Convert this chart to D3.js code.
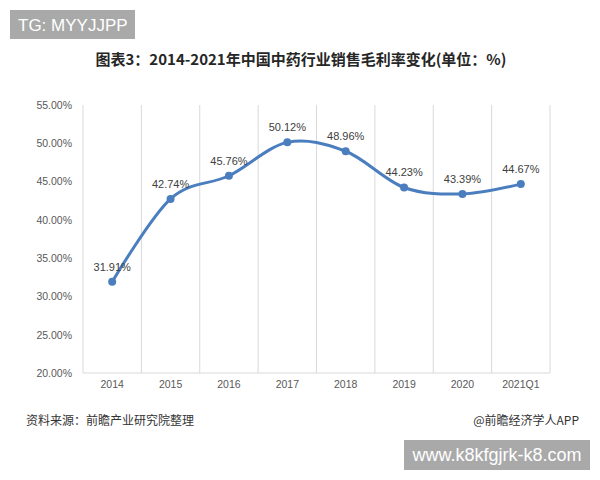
<!DOCTYPE html>
<html>
<head>
<meta charset="utf-8">
<script src="https://cdn.jsdelivr.net/npm/d3@7"></script>
<style>
html,body{margin:0;padding:0;background:#fff;}
svg{display:block;}
</style>
</head>
<body>
<svg id="chart" width="600" height="480"></svg>
<script>
const categories = ["2014","2015","2016","2017","2018","2019","2020","2021Q1"];
const values = [31.91, 42.74, 45.76, 50.12, 48.96, 44.23, 43.39, 44.67];
const yTicks = [20, 25, 30, 35, 40, 45, 50, 55];
const titleText = "图表3：2014-2021年中国中药行业销售毛利率变化(单位：%)";
const sourceText = "资料来源：前瞻产业研究院整理";
const creditText = "@前瞻经济学人APP";
const tagText = "TG: MYYJJPP";
const siteText = "www.k8kfgjrk-k8.com";

const svg = d3.select("#chart");
const cjk = "'Noto Sans CJK SC','Noto Sans',sans-serif";
const latin = "'Liberation Sans','Noto Sans',sans-serif";

const x = d3.scaleBand().domain(categories).range([83, 550]).padding(0);
const y = d3.scaleLinear().domain([20, 55]).range([373, 105]);

// top-left tag
svg.append("rect").attr("x",10).attr("y",10).attr("width",125).attr("height",29).attr("fill","#a9a9a9");
svg.append("text").attr("x",18).attr("y",25).attr("dy","0.35em")
  .attr("font-family",latin).attr("font-size",17).attr("fill","#fff").text(tagText);

// title
svg.append("text").attr("x",301).attr("y",60).attr("dy","0.35em").attr("text-anchor","middle")
  .attr("font-family",cjk).attr("font-weight","bold").attr("font-size",15).attr("fill","#262626")
  .text(titleText);

// vertical gridlines at category boundaries
const bounds = categories.map(c => x(c)).concat([x(categories[categories.length-1]) + x.bandwidth()]);
svg.append("g").selectAll("line").data(bounds).join("line")
  .attr("x1", d => d).attr("x2", d => d).attr("y1", y(55)).attr("y2", y(20))
  .attr("stroke","#d9d9d9").attr("stroke-width",1);

// bottom axis line
svg.append("line").attr("x1",83).attr("x2",550).attr("y1",y(20)).attr("y2",y(20))
  .attr("stroke","#d9d9d9").attr("stroke-width",1);

// y axis labels
const yAxis = d3.axisLeft(y).tickValues(yTicks).tickSize(0).tickPadding(0)
  .tickFormat(d => d.toFixed(2) + "%");
const yg = svg.append("g").attr("transform","translate(72,0)").call(yAxis);
yg.select(".domain").remove();
yg.selectAll("text").attr("font-family",latin).attr("font-size",10.5).attr("fill","#595959");

// x axis labels
const xAxis = d3.axisBottom(x).tickSize(0).tickPadding(0);
const xg = svg.append("g").attr("transform","translate(0,381)").call(xAxis);
xg.select(".domain").remove();
xg.selectAll("text").attr("font-family",latin).attr("font-size",10.5).attr("fill","#595959");

// line
const pts = categories.map((c,i) => ({c, v: values[i]}));
const line = d3.line().x(d => x(d.c) + x.bandwidth()/2).y(d => y(d.v)).curve(d3.curveCardinal.tension(0));
svg.append("path").datum(pts).attr("d", line).attr("fill","none")
  .attr("stroke","#4a7ebf").attr("stroke-width",3).attr("stroke-linecap","round");

svg.append("g").selectAll("circle").data(pts).join("circle")
  .attr("cx", d => x(d.c) + x.bandwidth()/2).attr("cy", d => y(d.v)).attr("r",4)
  .attr("fill","#4a7ebf");

svg.append("g").selectAll("text").data(pts).join("text")
  .attr("x", d => x(d.c) + x.bandwidth()/2).attr("y", d => y(d.v) - 15).attr("dy","0.35em")
  .attr("text-anchor","middle").attr("font-family",latin).attr("font-size",11).attr("fill","#404040")
  .text(d => d.v.toFixed(2) + "%");

// footer
svg.append("text").attr("x",26).attr("y",421).attr("dy","0.35em")
  .attr("font-family",cjk).attr("font-size",12).attr("fill","#333").text(sourceText);
svg.append("text").attr("x",579).attr("y",421).attr("dy","0.35em").attr("text-anchor","end")
  .attr("font-family",cjk).attr("font-size",12).attr("fill","#333").text(creditText);

// bottom-right site box
svg.append("rect").attr("x",404).attr("y",440).attr("width",186).attr("height",30).attr("fill","#a9a9a9");
svg.append("text").attr("x",497).attr("y",455).attr("dy","0.35em").attr("text-anchor","middle")
  .attr("font-family",latin).attr("font-size",18).attr("fill","#fff").text(siteText);
</script>
</body>
</html>
